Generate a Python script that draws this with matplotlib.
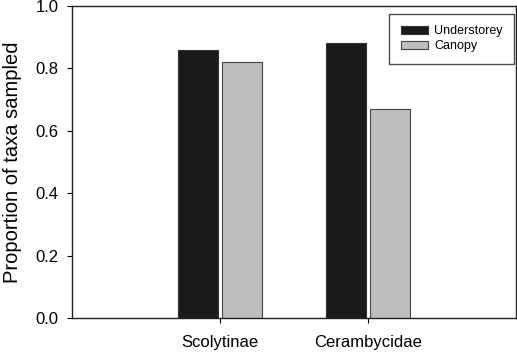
import matplotlib
matplotlib.use("Agg")
import matplotlib.pyplot as plt
import numpy as np

plt.rcParams['font.family'] = ['Liberation Sans', 'DejaVu Sans']

categories = ["Scolytinae", "Cerambycidae"]
understorey = [0.86, 0.88]
canopy = [0.82, 0.67]
yticks = [0.0, 0.2, 0.4, 0.6, 0.8, 1.0]

fig = plt.figure(figsize=(5.17, 3.53), dpi=100)
ax = fig.add_axes([0.1393, 0.0992, 0.8587, 0.8838])

x = np.arange(len(categories))
w = 0.27
ax.bar(x - 0.15, understorey, w, color="#1a1a1a", edgecolor="#333333", linewidth=0.8, label="Understorey")
ax.bar(x + 0.15, canopy, w, color="#bebebe", edgecolor="#444444", linewidth=0.8, label="Canopy")

ax.set_xlim(-1.0, 2.0)
ax.set_ylim(0, 1.0)
ax.set_xticks(x)
ax.set_xticklabels(categories, fontsize=12)
ax.set_yticks(yticks)
ax.set_yticklabels([f"{v:.1f}" for v in yticks], fontsize=12)
ax.tick_params(axis='y', direction='out', length=3.5, pad=6, width=0.8)
ax.tick_params(axis='x', direction='out', length=3.5, pad=9, width=0.8)
for s in ax.spines.values():
    s.set_linewidth(1.0)
    s.set_color("#222222")
ax.set_ylabel("Proportion of taxa sampled", fontsize=14.5, labelpad=10)

leg = ax.legend(loc="upper right", bbox_to_anchor=(0.996, 0.974), fontsize=9,
                frameon=True, fancybox=False, edgecolor="#222222",
                handlelength=2.2, handleheight=0.6, borderpad=0.9,
                labelspacing=0.25, handletextpad=0.5, borderaxespad=0)
leg.get_frame().set_linewidth(1.0)

fig.savefig("out.png", dpi=100)
